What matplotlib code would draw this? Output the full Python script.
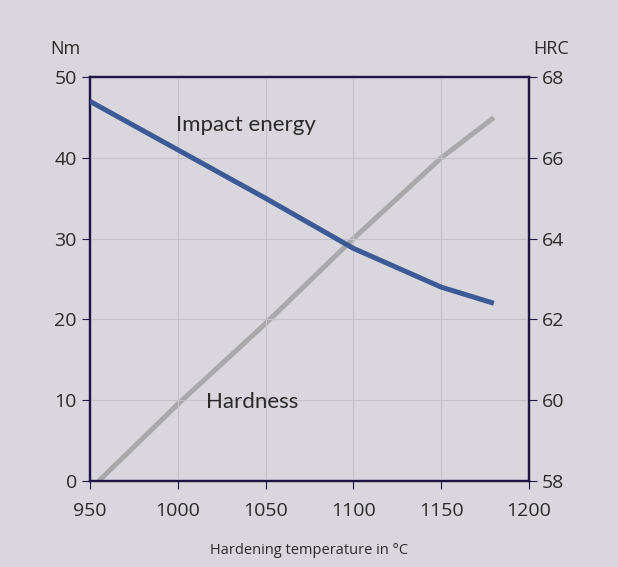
import matplotlib
matplotlib.use("Agg")
import matplotlib.pyplot as plt

# hardening temperature (°C)
temp_impact = [950, 1000, 1050, 1100, 1150, 1180]
impact_energy = [47, 41, 35, 28.8, 24, 22]          # Nm

temp_hard = [955, 1000, 1050, 1100, 1150, 1180]
hardness = [58, 59.9, 61.9, 64.0, 66.0, 67.0]       # HRC

x_ticks = [950, 1000, 1050, 1100, 1150, 1200]
left_ticks = [0, 10, 20, 30, 40, 50]
right_ticks = [58, 60, 62, 64, 66, 68]

bg = "#d9d7dd"
frame = "#1e1645"
txt = "#2a2a2a"

plt.rcParams["font.family"] = ["Open Sans", "DejaVu Sans"]

fig = plt.figure(figsize=(6.18, 5.67), dpi=100, facecolor=bg)
ax = fig.add_axes([0.1456, 0.1517, 0.7104, 0.7123], facecolor=bg)
ax2 = ax.twinx()

ax.plot(temp_impact, impact_energy, color="#3c5a96", lw=3.6,
        solid_capstyle="butt", zorder=3)
ax2.plot(temp_hard, hardness, color="#a9a9ab", lw=3.6,
         solid_capstyle="butt", zorder=2)
# impact line drawn above hardness line
ax.patch.set_visible(False)
ax2.patch.set_facecolor(bg)
ax.set_zorder(2)
ax2.set_zorder(1)

ax.set_xlim(950, 1200)
ax.set_ylim(0, 50)
ax2.set_ylim(58, 68)
ax.set_xticks(x_ticks)
ax.set_yticks(left_ticks)
ax2.set_yticks(right_ticks)

ax.grid(True, color="#c4c2c8", lw=0.8)
ax.set_axisbelow(True)

for a in (ax, ax2):
    for s in a.spines.values():
        s.set_color(frame)
        s.set_linewidth(1.6)
    a.tick_params(colors=frame, labelcolor=txt, labelsize=14, length=6, width=0.8)
ax.tick_params(axis="x", pad=9)

ax.set_xlabel("Hardening temperature in °C", fontsize=10.5, color=txt, labelpad=17)
fig.text(0.082, 0.905, "Nm", fontsize=13, color=txt)
fig.text(0.863, 0.905, "HRC", fontsize=13, color=txt)

ax.text(999, 43.3, "Impact energy", fontsize=16, color=txt,
        family=["Lato", "DejaVu Sans"])
ax.text(1016, 9, "Hardness", fontsize=16, color=txt,
        family=["Lato", "DejaVu Sans"])

fig.savefig("out.png", dpi=100, facecolor=bg)
